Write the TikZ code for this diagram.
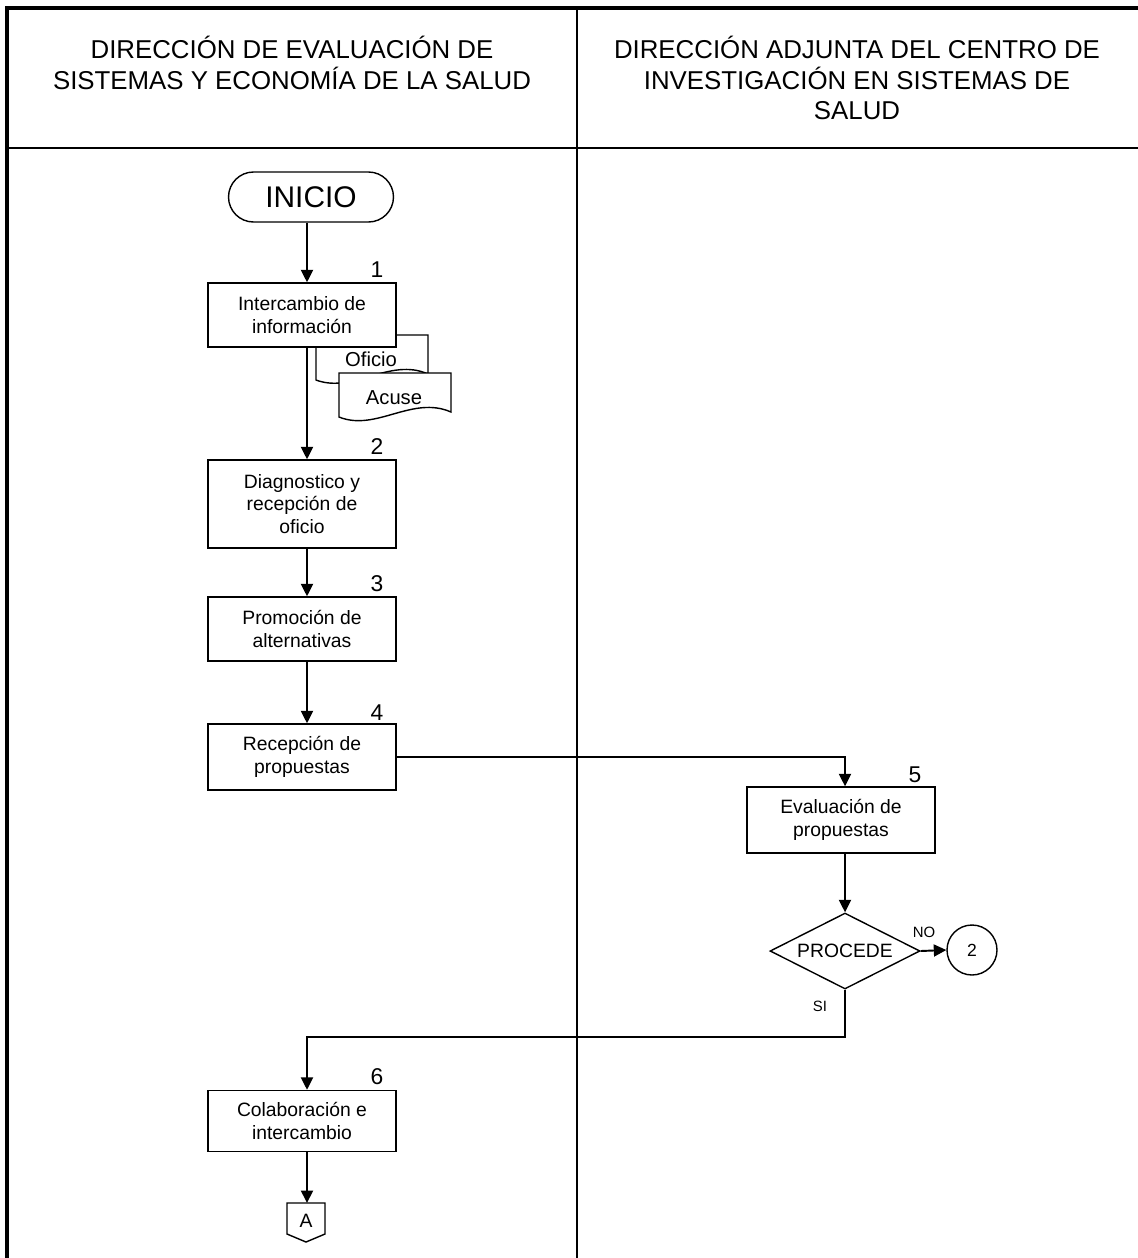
\documentclass[tikz,border=0pt]{standalone}
\usepackage{fontspec}
\setmainfont{Liberation Sans}
\usepackage{tikz}
\usetikzlibrary{arrows.meta, positioning, calc, shapes.geometric}

\begin{document}
\begin{tikzpicture}[x=0.02cm, y=-0.02cm,
    box/.style={draw, line width=0.8pt, fill=white, minimum width=3.76cm,
      align=center, inner sep=2pt, font=\fontsize{11}{12.8}\selectfont},
    num/.style={font=\fontsize{13}{15}\selectfont, inner sep=0pt},
    flow/.style={line width=1.1pt, -{Triangle[length=0.25cm, width=0.24cm]}},
    small/.style={font=\fontsize{8.5}{10}\selectfont, inner sep=0pt}]
    \useasboundingbox (0, 0) rectangle (1138, 1258);

    % --- frame and lanes ----------------------------------------------------
    \draw[line width=2.8pt] (7, 1258) -- (7, 8) -- (1138, 8);
    \draw[line width=1.2pt] (7, 148) -- (1138, 148);
    \draw[line width=1.7pt] (577, 8) -- (577, 1258);
    \node[align=center, font=\fontsize{14.7}{17.6}\selectfont] (lane1) at (292, 63)
      {DIRECCIÓN DE EVALUACIÓN DE\\SISTEMAS Y ECONOMÍA DE LA SALUD};
    \node[align=center, font=\fontsize{14.7}{17.6}\selectfont] (lane2) at (857, 78)
      {DIRECCIÓN ADJUNTA DEL CENTRO DE\\INVESTIGACIÓN EN SISTEMAS DE\\SALUD};

    % --- documents behind step 1 ------------------------------------------
    \draw[line width=0.8pt, fill=white] (316, 335) -- (428, 335) -- (428, 374)
      .. controls (390, 357) and (353, 394) .. (316, 380) -- cycle;
    \node[font=\fontsize{11.5}{13}\selectfont] (oficio) at (371, 359) {Oficio};
    \draw[line width=0.8pt, fill=white] (339, 373) -- (451, 373) -- (451, 412)
      .. controls (412, 395) and (376, 432) .. (339, 417) -- cycle;
    \node[font=\fontsize{11.5}{13}\selectfont] (acuse) at (394, 398) {Acuse};

    % --- left lane ----------------------------------------------------------
    \node[draw, line width=0.8pt, fill=white, rounded corners=0.5cm,
      minimum width=3.3cm, minimum height=1cm, font=\fontsize{17}{20}\selectfont]
      (inicio) at (311, 197) {INICIO};

    \node[box, minimum height=1.28cm] (b1) at (302, 315) {Intercambio de\\información};
    \node[num] (n1) at (377, 270) {1};
    \node[box, minimum height=1.76cm] (b2) at (302, 504) {Diagnostico y\\recepción de\\oficio};
    \node[num] (n2) at (377, 447) {2};
    \node[box, minimum height=1.28cm] (b3) at (302, 629) {Promoción de\\alternativas};
    \node[num] (n3) at (377, 584) {3};
    \node[box, minimum height=1.32cm] (b4) at (302, 757) {Recepción de\\propuestas};
    \node[num] (n4) at (377, 713) {4};
    \node[box, minimum height=1.22cm] (b6) at (302, 1121) {Colaboración e\\intercambio};
    \node[num] (n6) at (377, 1077) {6};

    % off-page connector
    \draw[line width=0.8pt, fill=white] (287, 1203) -- (325, 1203) -- (325, 1234)
      -- (306, 1242) -- (287, 1234) -- cycle;
    \node[font=\fontsize{11}{13}\selectfont] (conA) at (306, 1221) {A};
    \coordinate (conAtop) at (307, 1203);

    % --- right lane ---------------------------------------------------------
    \node[box, minimum height=1.32cm] (b5) at (841, 820) {Evaluación de\\propuestas};
    \node[num] (n5) at (915, 775) {5};
    \node[draw, diamond, aspect=2, line width=0.8pt, inner sep=0pt,
      minimum width=3.0cm, minimum height=1.52cm,
      font=\fontsize{11}{13}\selectfont] (dec) at (845, 951) {PROCEDE};
    \node[draw, circle, line width=0.8pt, minimum size=1cm, inner sep=0pt,
      font=\fontsize{10}{12}\selectfont] (c2) at (972, 950) {2};
    \node[small] (no) at (924, 932) {NO};
    \node[small] (si) at (820, 1006) {SI};

    % --- flow ---------------------------------------------------------------
    \draw[flow] (inicio.south -| conAtop) -- (b1.north -| conAtop);
    \draw[flow] (b1.south -| conAtop) -- (b2.north -| conAtop);
    \draw[flow] (b2.south -| conAtop) -- (b3.north -| conAtop);
    \draw[flow] (b3.south -| conAtop) -- (b4.north -| conAtop);
    \draw[flow] (b4.east) -- (b4.east -| dec.north) -- (b5.north -| dec.north);
    \draw[flow] (b5.south -| dec.north) -- (dec.north);
    \draw[flow] (dec.east) -- (c2.west);
    \draw[flow] (dec.south) -- ++(0, 47) -| (b6.north -| conAtop);
    \draw[flow] (b6.south -| conAtop) -- (conAtop);
\end{tikzpicture}
\end{document}
